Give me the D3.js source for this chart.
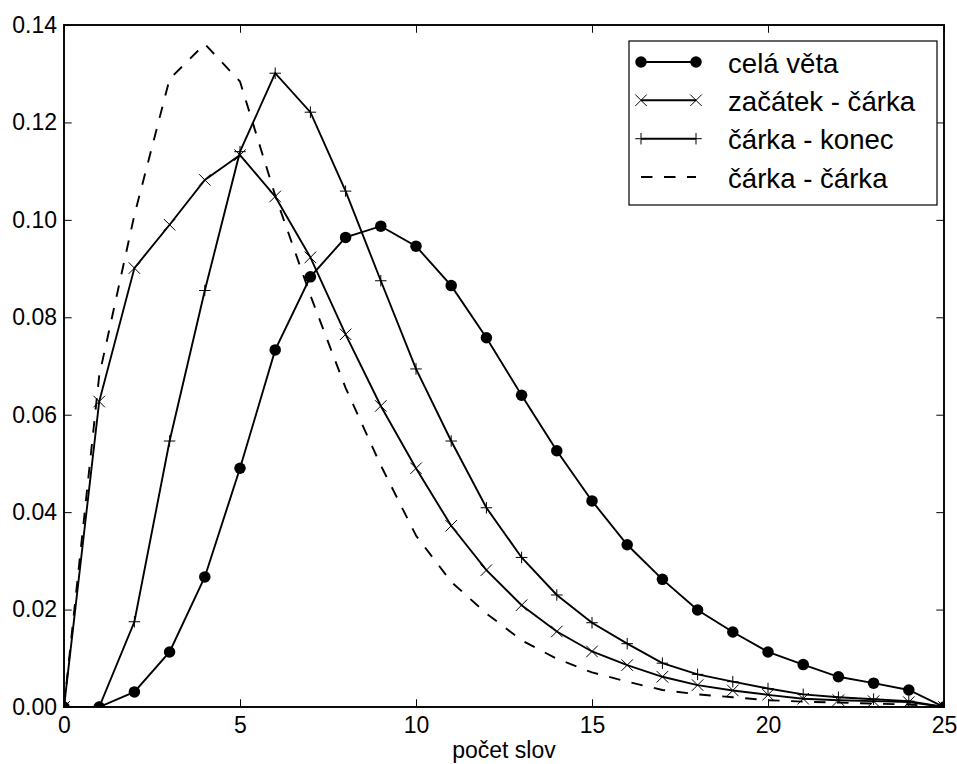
<!DOCTYPE html>
<html>
<head>
<meta charset="utf-8">
<script src="https://cdn.jsdelivr.net/npm/d3@7"></script>
<style>
  html, body { margin: 0; padding: 0; background: #fff; }
  svg { display: block; font-family: "Liberation Sans", Arial, sans-serif; }
</style>
</head>
<body>
<svg id="chart" width="957" height="764"></svg>
<script>
// ---- data ----
const words = d3.range(0, 26);
const celaVeta = [0, 0, 0.0031, 0.0113, 0.0267, 0.049, 0.0733, 0.0883, 0.0964, 0.0987, 0.0946, 0.0865, 0.0758, 0.064, 0.0526, 0.0423, 0.0333, 0.0262, 0.0199, 0.0154, 0.0113, 0.0087, 0.0062, 0.0049, 0.0035, 0];
const zacatekCarka = [0, 0.0627, 0.0901, 0.099, 0.1082, 0.1133, 0.1048, 0.0923, 0.0765, 0.0618, 0.049, 0.0372, 0.0281, 0.0209, 0.0155, 0.0114, 0.0086, 0.0062, 0.0045, 0.0034, 0.0025, 0.0017, 0.0014, 0.0012, 0.001, 0];
const carkaKonec = [0, 0, 0.0175, 0.0546, 0.0855, 0.114, 0.1301, 0.1221, 0.1059, 0.0875, 0.0694, 0.0546, 0.0409, 0.0307, 0.023, 0.0173, 0.013, 0.009, 0.0067, 0.0052, 0.0038, 0.0026, 0.002, 0.0016, 0.0012, 0];
const carkaCarka = [0, 0.068, 0.101, 0.1289, 0.1361, 0.1284, 0.105, 0.0845, 0.0655, 0.0496, 0.0352, 0.0257, 0.0192, 0.0137, 0.0099, 0.0071, 0.0052, 0.0035, 0.0026, 0.002, 0.0014, 0.0011, 0.0009, 0.0007, 0.0005, 0];
const seriesNames = ["celá věta", "začátek - čárka", "čárka - konec", "čárka - čárka"];
const xTicks = [0, 5, 10, 15, 20, 25];
const yTicks = [0, 0.02, 0.04, 0.06, 0.08, 0.10, 0.12, 0.14];
const xTitle = "počet slov";

// ---- layout ----
const L = 64, R = 944, T = 25, B = 707;
const svg = d3.select("#chart");
const x = d3.scaleLinear().domain([0, 25]).range([L, R]);
const y = d3.scaleLinear().domain([0, 0.14]).range([B, T]);

svg.append("defs").append("clipPath").attr("id", "clip")
  .append("rect").attr("x", L).attr("y", T).attr("width", R - L).attr("height", B - T);

const tickLen = 7.7;
const fs = 23;

function styleAxis(g) {
  g.select(".domain").remove();
  g.selectAll(".tick line").attr("stroke", "#000").attr("stroke-width", 1);
  g.selectAll(".tick text").attr("fill", "#000").style("font-size", fs + "px")
    .style("font-family", "'Liberation Sans', Arial, sans-serif");
}

svg.append("g").attr("transform", `translate(0,${B})`)
  .call(d3.axisBottom(x).tickValues(xTicks).tickFormat(d3.format("d")).tickSizeInner(-tickLen).tickSizeOuter(0).tickPadding(10))
  .call(styleAxis);
svg.append("g").attr("transform", `translate(0,${T})`)
  .call(d3.axisTop(x).tickValues(xTicks).tickFormat("").tickSizeInner(-tickLen).tickSizeOuter(0))
  .call(styleAxis);
svg.append("g").attr("transform", `translate(${L},0)`)
  .call(d3.axisLeft(y).tickValues(yTicks).tickFormat(d3.format(".2f")).tickSizeInner(-tickLen).tickSizeOuter(0).tickPadding(7))
  .call(styleAxis);
svg.append("g").attr("transform", `translate(${R},0)`)
  .call(d3.axisRight(y).tickValues(yTicks).tickFormat("").tickSizeInner(-tickLen).tickSizeOuter(0))
  .call(styleAxis);

// ---- series ----
const line = d3.line().x((d, i) => x(words[i])).y(d => y(d));
const plot = svg.append("g").attr("clip-path", "url(#clip)");
const lw = 1.9, ms = 5.75;

function drawMarker(g, type, cx, cy) {
  if (type === "o") {
    g.append("circle").attr("cx", cx).attr("cy", cy).attr("r", ms).attr("fill", "#000");
  } else if (type === "x") {
    g.append("path").attr("d", `M${cx - ms},${cy - ms}L${cx + ms},${cy + ms}M${cx - ms},${cy + ms}L${cx + ms},${cy - ms}`)
      .attr("stroke", "#000").attr("stroke-width", 1).attr("fill", "none");
  } else if (type === "+") {
    g.append("path").attr("d", `M${cx - ms},${cy}L${cx + ms},${cy}M${cx},${cy - ms}L${cx},${cy + ms}`)
      .attr("stroke", "#000").attr("stroke-width", 1).attr("fill", "none");
  }
}

const series = [
  { vals: celaVeta, marker: "o", dash: null },
  { vals: zacatekCarka, marker: "x", dash: null },
  { vals: carkaKonec, marker: "+", dash: null },
  { vals: carkaCarka, marker: null, dash: "11.5,11.5" }
];

series.forEach(s => {
  const p = plot.append("path").datum(s.vals).attr("d", line)
    .attr("fill", "none").attr("stroke", "#000").attr("stroke-width", lw);
  if (s.dash) p.attr("stroke-dasharray", s.dash);
  if (s.marker) s.vals.forEach((v, i) => drawMarker(plot, s.marker, x(words[i]), y(v)));
});

// frame
svg.append("rect").attr("x", L).attr("y", T).attr("width", R - L).attr("height", B - T)
  .attr("fill", "none").attr("stroke", "#000").attr("stroke-width", 1.9);

// x title
svg.append("text").attr("x", (L + R) / 2).attr("y", 758).attr("text-anchor", "middle")
  .style("font-size", fs + "px").text(xTitle);

// ---- legend ----
const lfs = 27.6;
const legX0 = 629, legX1 = 937, legY0 = 41, legY1 = 205;
const leg = svg.append("g");
leg.append("rect").attr("x", legX0).attr("y", legY0).attr("width", legX1 - legX0).attr("height", legY1 - legY0)
  .attr("fill", "#fff").attr("stroke", "#000").attr("stroke-width", 1.2);
const hx0 = 641, hx1 = 696, tx = 728;
const rowY = [62, 100.3, 138.7, 177];
series.forEach((s, i) => {
  const cy = rowY[i];
  const p = leg.append("line").attr("x1", hx0).attr("x2", hx1).attr("y1", cy).attr("y2", cy)
    .attr("stroke", "#000").attr("stroke-width", lw);
  if (s.dash) p.attr("stroke-dasharray", s.dash);
  if (s.marker) { drawMarker(leg, s.marker, hx0, cy); drawMarker(leg, s.marker, hx1, cy); }
  leg.append("text").attr("x", tx).attr("y", cy + 0.39 * lfs).style("font-size", lfs + "px").text(seriesNames[i]);
});
</script>
</body>
</html>
